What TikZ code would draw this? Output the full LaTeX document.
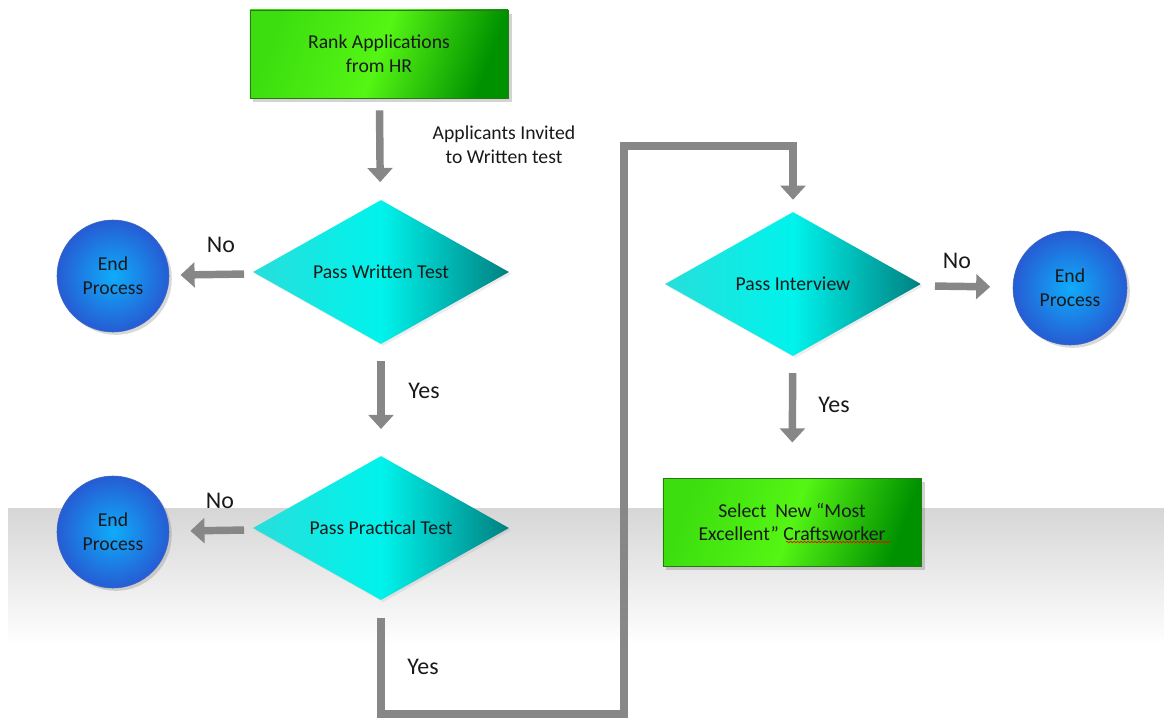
\documentclass[tikz,border=0pt]{standalone}
\usepackage{fontspec}
\setmainfont{Carlito}
\usetikzlibrary{shapes.geometric,arrows.meta,shadows,decorations.pathmorphing,positioning}

\definecolor{boxlight}{RGB}{85,245,20}
\definecolor{boxtop}{RGB}{60,222,15}
\definecolor{boxdark}{RGB}{0,145,0}
\definecolor{boxedge}{RGB}{40,120,20}
\definecolor{decmid}{RGB}{0,243,236}
\definecolor{decright}{RGB}{0,128,128}
\definecolor{decleft}{RGB}{40,222,218}
\definecolor{endinner}{RGB}{15,172,250}
\definecolor{endouter}{RGB}{38,92,212}
\definecolor{arrowgray}{RGB}{135,135,135}
\definecolor{textdark}{RGB}{25,25,25}

\begin{document}
\begin{tikzpicture}[
    x=0.025cm, y=-0.025cm,
    font=\fontsize{14}{17}\selectfont,
    process/.style={rectangle, draw=boxedge, line width=0.5pt,
        left color=boxtop, right color=boxdark, middle color=boxlight, shading angle=70,
        minimum width=6.45cm, minimum height=2.2cm, align=center,
        text=textdark, drop shadow={shadow xshift=2.5pt, shadow yshift=-2.5pt, opacity=0.35}},
    decision/.style={diamond, aspect=1.76, left color=decleft, right color=decright, middle color=decmid,
        minimum width=6.4cm, minimum height=3.6cm, align=center, text=textdark, inner sep=0pt,
        drop shadow={shadow xshift=1.5pt, shadow yshift=-1.5pt, opacity=0.15}},
    endproc/.style={circle, draw=endouter!70!gray, line width=0.4pt,
        inner color=endinner, outer color=endouter, minimum size=2.8cm, align=center,
        text=textdark, drop shadow={shadow xshift=2pt, shadow yshift=-2pt, opacity=0.3}},
    answer/.style={font=\fontsize{17}{20}\selectfont, text=textdark},
    blockarrow/.style={draw=arrowgray, line width=5.3pt,
        -{Triangle[width=17.5pt, length=10pt]}, arrowgray}
]
\useasboundingbox (0,0) rectangle (1164,719);

% Background band
\shade[top color=gray!32, bottom color=white] (8,508) rectangle (1164,645);

% Left column
\node[process] (rank) at (379,54) {Rank Applications\\from HR};
\node[decision] (wtest) at (381,272) {Pass Written Test};
\node[decision] (ptest) at (381,528) {Pass Practical Test};
\node[endproc] (end1) at (113,276) {End\\Process};
\node[endproc] (end2) at (113,532) {End\\Process};

% Right column
\node[decision] (itest) at (793,284) {Pass Interview};
\node[endproc, minimum size=2.85cm] (end3) at (1070,288) {End\\Process};
\node[process] (select) at (792,522) {Select~ New “Most\\Excellent” Craftsworker};

% Corners of the long connector
\coordinate (lowleft) at (381,714);
\coordinate (lowright) at (624,714);
\coordinate (topleft) at (624,146);
\coordinate (topright) at (793,146);

% Arrows
\draw[blockarrow, shorten <=8.5pt, shorten >=12.8pt] (rank) -- (wtest);
\draw[blockarrow, shorten <=8.5pt, shorten >=8pt] (wtest) -- (end1);
\draw[blockarrow, shorten <=12pt, shorten >=19pt] (wtest) -- (ptest);
\draw[blockarrow, shorten <=8.5pt, shorten >=15pt] (ptest) -- (end2);
\draw[blockarrow, line join=miter, shorten <=12.8pt, shorten >=8.5pt]
    (ptest.south) -- (lowleft) -- (lowright) -- (topleft) -- (topright) -- (itest.north);
\draw[blockarrow, shorten <=12pt, shorten >=16pt] (itest) -- (end3);
\draw[blockarrow, shorten <=12pt, shorten >=25pt] (itest) -- (select);

% Labels
\node[align=center, text=textdark] (invited) at (504,145) {Applicants Invited\\to Written test};
\node[answer] (no1) at (221,245) {No};
\node[answer] (no2) at (220,501) {No};
\node[answer] (no3) at (957,261) {No};
\node[answer] (yes1) at (424,391) {Yes};
\node[answer] (yes2) at (423,667) {Yes};
\node[answer] (yes3) at (834,405) {Yes};

% Spelling mark under the last word
\draw[red, line width=0.5pt, decorate, decoration={snake, amplitude=0.5pt, segment length=2.5pt}]
    (786,542) -- (891,542);

\end{tikzpicture}
\end{document}
